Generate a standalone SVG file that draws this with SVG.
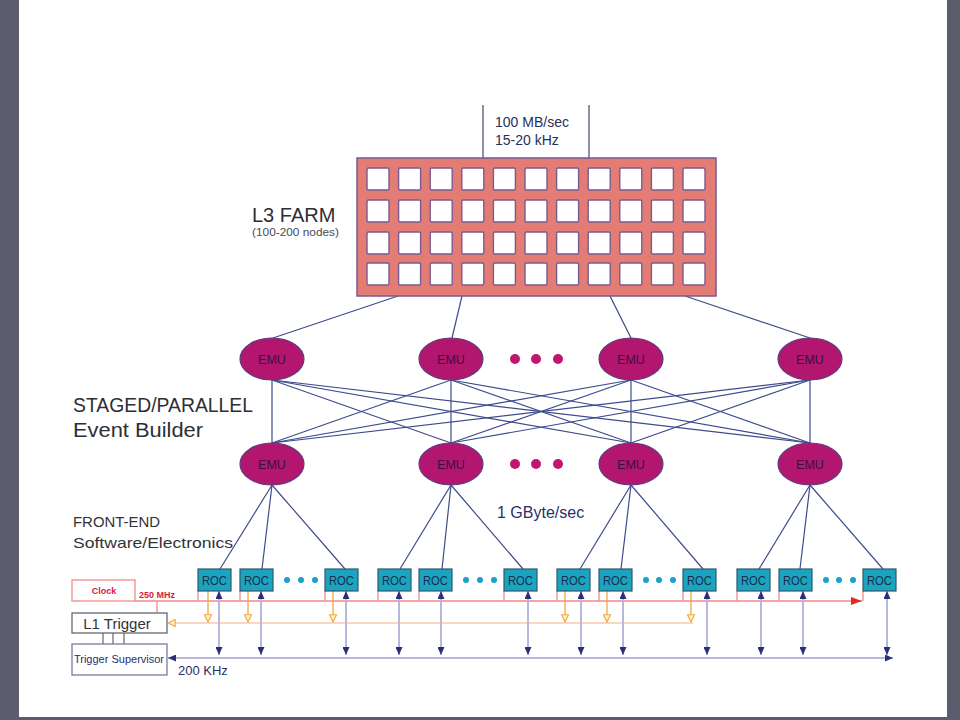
<svg xmlns="http://www.w3.org/2000/svg" width="960" height="720" viewBox="0 0 960 720">
<style>
.lbl{font-family:"Liberation Sans",Arial,sans-serif;}
.emu ellipse{fill:#b3166e;stroke:#5e3c7e;stroke-width:1.2;}
.emu text{font-family:"Liberation Sans",Arial,sans-serif;font-size:12.5px;fill:#3a1040;text-anchor:middle;}
.roc rect{fill:#1ba3c0;stroke:#2d5a6a;stroke-width:1.2;}
.roc text{font-family:"Liberation Sans",Arial,sans-serif;font-size:13px;fill:#16304a;text-anchor:middle;}
.cell{fill:#ffffff;stroke:#7a5a8e;stroke-width:1.4;}
.mesh line{stroke:#3d4b8c;stroke-width:1.2;}
.bus{stroke:#b8b8dc;stroke-width:2;fill:none;}
.red{stroke:#f08a8a;stroke-width:1.3;fill:none;}
.orange{stroke:#f2a844;stroke-width:1.3;fill:none;}
.orangeh{stroke:#f8c8a8;stroke-width:1.3;fill:none;}
.mdot{fill:#c0166f;}
.cdot{fill:#1a9fd0;}
</style>
<defs>
<marker id="nav" viewBox="0 0 8 7" refX="8" refY="3.5" markerWidth="8" markerHeight="7" markerUnits="userSpaceOnUse" orient="auto-start-reverse"><path d="M0,0 L8,3.5 L0,7 z" fill="#2a2f78"/></marker>
<marker id="org" viewBox="0 0 10 10" refX="9" refY="5" markerWidth="9" markerHeight="9" markerUnits="userSpaceOnUse" orient="auto"><path d="M1,1 L9,5 L1,9 z" fill="#fff0c0" stroke="#f2a844" stroke-width="1.2"/></marker>
<marker id="redm" viewBox="0 0 11 8" refX="11" refY="4" markerWidth="11" markerHeight="8" markerUnits="userSpaceOnUse" orient="auto"><path d="M0,0 L11,4 L0,8 z" fill="#e02a2a"/></marker>
</defs>
<rect x="0" y="0" width="960" height="720" fill="#5c5d6c"/>
<rect x="19" y="0" width="928" height="717" fill="#ffffff"/>

<g id="connectors">
<line x1="483" y1="105" x2="483" y2="158" stroke="#6a6a92" stroke-width="1.5"/>
<line x1="589" y1="105" x2="589" y2="158" stroke="#6a6a92" stroke-width="1.5"/>
<g class="mesh">
<line x1="398" y1="296" x2="273" y2="338"/>
<line x1="462" y1="296" x2="452" y2="338"/>
<line x1="610" y1="296" x2="631" y2="338"/>
<line x1="685" y1="296" x2="810" y2="338"/>
<line x1="272" y1="380" x2="272" y2="443"/>
<line x1="272" y1="380" x2="451" y2="443"/>
<line x1="272" y1="380" x2="631" y2="443"/>
<line x1="272" y1="380" x2="810" y2="443"/>
<line x1="451" y1="380" x2="272" y2="443"/>
<line x1="451" y1="380" x2="451" y2="443"/>
<line x1="451" y1="380" x2="631" y2="443"/>
<line x1="451" y1="380" x2="810" y2="443"/>
<line x1="631" y1="380" x2="272" y2="443"/>
<line x1="631" y1="380" x2="451" y2="443"/>
<line x1="631" y1="380" x2="631" y2="443"/>
<line x1="631" y1="380" x2="810" y2="443"/>
<line x1="810" y1="380" x2="272" y2="443"/>
<line x1="810" y1="380" x2="451" y2="443"/>
<line x1="810" y1="380" x2="631" y2="443"/>
<line x1="810" y1="380" x2="810" y2="443"/>
<line x1="272" y1="485" x2="220" y2="569"/>
<line x1="272" y1="485" x2="262" y2="569"/>
<line x1="272" y1="485" x2="345" y2="569"/>
<line x1="451" y1="485" x2="400" y2="569"/>
<line x1="451" y1="485" x2="442" y2="569"/>
<line x1="451" y1="485" x2="523" y2="569"/>
<line x1="631" y1="485" x2="580" y2="569"/>
<line x1="631" y1="485" x2="621" y2="569"/>
<line x1="631" y1="485" x2="703" y2="569"/>
<line x1="810" y1="485" x2="759" y2="569"/>
<line x1="810" y1="485" x2="800" y2="569"/>
<line x1="810" y1="485" x2="883" y2="569"/>
</g>
<!-- clock line -->
<line class="red" x1="135" y1="601" x2="862" y2="601" marker-end="url(#redm)"/>
<path class="red" d="M157,601 V613 M198,591 V601 M240,591 V601 M325,591 V601 M378,591 V601 M419,591 V601 M504,591 V601 M557,591 V601 M599,591 V601 M683,591 V601 M737,591 V601 M779,591 V601 M863,591 V601"/>
<!-- trigger line -->
<line class="orangeh" x1="693" y1="623" x2="168" y2="623" marker-end="url(#org)"/>
<g class="orange">
<line x1="208" y1="591" x2="208" y2="622" marker-end="url(#org)"/>
<line x1="248" y1="591" x2="248" y2="622" marker-end="url(#org)"/>
<line x1="333" y1="591" x2="333" y2="622" marker-end="url(#org)"/>
<line x1="565" y1="591" x2="565" y2="622" marker-end="url(#org)"/>
<line x1="607" y1="591" x2="607" y2="622" marker-end="url(#org)"/>
<line x1="691" y1="591" x2="691" y2="622" marker-end="url(#org)"/>
</g>
<!-- supervisor bus -->
<line class="bus" x1="168" y1="658" x2="893" y2="658" marker-start="url(#nav)" marker-end="url(#nav)"/>
<g class="bus">
<line x1="219" y1="591" x2="219" y2="655" marker-start="url(#nav)" marker-end="url(#nav)"/>
<line x1="261" y1="591" x2="261" y2="655" marker-start="url(#nav)" marker-end="url(#nav)"/>
<line x1="346" y1="591" x2="346" y2="655" marker-start="url(#nav)" marker-end="url(#nav)"/>
<line x1="399" y1="591" x2="399" y2="655" marker-start="url(#nav)" marker-end="url(#nav)"/>
<line x1="441" y1="591" x2="441" y2="655" marker-start="url(#nav)" marker-end="url(#nav)"/>
<line x1="528" y1="591" x2="528" y2="655" marker-start="url(#nav)" marker-end="url(#nav)"/>
<line x1="581" y1="591" x2="581" y2="655" marker-start="url(#nav)" marker-end="url(#nav)"/>
<line x1="623" y1="591" x2="623" y2="655" marker-start="url(#nav)" marker-end="url(#nav)"/>
<line x1="707" y1="591" x2="707" y2="655" marker-start="url(#nav)" marker-end="url(#nav)"/>
<line x1="761" y1="591" x2="761" y2="655" marker-start="url(#nav)" marker-end="url(#nav)"/>
<line x1="803" y1="591" x2="803" y2="655" marker-start="url(#nav)" marker-end="url(#nav)"/>
<line x1="887" y1="591" x2="887" y2="655" marker-start="url(#nav)" marker-end="url(#nav)"/>
</g>
<path d="M103,633 V644 M113,633 V644 M124,633 V644" stroke="#666" stroke-width="1.2" fill="none"/>
</g>

<g id="l3farm">
<rect x="357" y="158" width="359" height="138" fill="#e27c74" stroke="#7a5a8e" stroke-width="1.5"/>
<g id="farmcells">
<rect class="cell" x="367" y="168" width="22" height="22" rx="1.5"/><rect class="cell" x="398.6" y="168" width="22" height="22" rx="1.5"/><rect class="cell" x="430.2" y="168" width="22" height="22" rx="1.5"/><rect class="cell" x="461.8" y="168" width="22" height="22" rx="1.5"/><rect class="cell" x="493.4" y="168" width="22" height="22" rx="1.5"/><rect class="cell" x="525" y="168" width="22" height="22" rx="1.5"/><rect class="cell" x="556.6" y="168" width="22" height="22" rx="1.5"/><rect class="cell" x="588.2" y="168" width="22" height="22" rx="1.5"/><rect class="cell" x="619.8" y="168" width="22" height="22" rx="1.5"/><rect class="cell" x="651.4" y="168" width="22" height="22" rx="1.5"/><rect class="cell" x="683" y="168" width="22" height="22" rx="1.5"/>
<rect class="cell" x="367" y="200" width="22" height="22" rx="1.5"/><rect class="cell" x="398.6" y="200" width="22" height="22" rx="1.5"/><rect class="cell" x="430.2" y="200" width="22" height="22" rx="1.5"/><rect class="cell" x="461.8" y="200" width="22" height="22" rx="1.5"/><rect class="cell" x="493.4" y="200" width="22" height="22" rx="1.5"/><rect class="cell" x="525" y="200" width="22" height="22" rx="1.5"/><rect class="cell" x="556.6" y="200" width="22" height="22" rx="1.5"/><rect class="cell" x="588.2" y="200" width="22" height="22" rx="1.5"/><rect class="cell" x="619.8" y="200" width="22" height="22" rx="1.5"/><rect class="cell" x="651.4" y="200" width="22" height="22" rx="1.5"/><rect class="cell" x="683" y="200" width="22" height="22" rx="1.5"/>
<rect class="cell" x="367" y="232" width="22" height="22" rx="1.5"/><rect class="cell" x="398.6" y="232" width="22" height="22" rx="1.5"/><rect class="cell" x="430.2" y="232" width="22" height="22" rx="1.5"/><rect class="cell" x="461.8" y="232" width="22" height="22" rx="1.5"/><rect class="cell" x="493.4" y="232" width="22" height="22" rx="1.5"/><rect class="cell" x="525" y="232" width="22" height="22" rx="1.5"/><rect class="cell" x="556.6" y="232" width="22" height="22" rx="1.5"/><rect class="cell" x="588.2" y="232" width="22" height="22" rx="1.5"/><rect class="cell" x="619.8" y="232" width="22" height="22" rx="1.5"/><rect class="cell" x="651.4" y="232" width="22" height="22" rx="1.5"/><rect class="cell" x="683" y="232" width="22" height="22" rx="1.5"/>
<rect class="cell" x="367" y="263" width="22" height="22" rx="1.5"/><rect class="cell" x="398.6" y="263" width="22" height="22" rx="1.5"/><rect class="cell" x="430.2" y="263" width="22" height="22" rx="1.5"/><rect class="cell" x="461.8" y="263" width="22" height="22" rx="1.5"/><rect class="cell" x="493.4" y="263" width="22" height="22" rx="1.5"/><rect class="cell" x="525" y="263" width="22" height="22" rx="1.5"/><rect class="cell" x="556.6" y="263" width="22" height="22" rx="1.5"/><rect class="cell" x="588.2" y="263" width="22" height="22" rx="1.5"/><rect class="cell" x="619.8" y="263" width="22" height="22" rx="1.5"/><rect class="cell" x="651.4" y="263" width="22" height="22" rx="1.5"/><rect class="cell" x="683" y="263" width="22" height="22" rx="1.5"/>
</g>
</g>

<g id="labels" class="lbl">
<text x="495" y="127" font-size="14" fill="#2a2f5a">100 MB/sec</text>
<text x="495" y="145" font-size="14" fill="#2a2f5a">15-20 kHz</text>
<text x="252" y="222" font-size="20" fill="#2e2e36">L3 FARM</text>
<text x="252" y="236" font-size="11" fill="#4a4a55" textLength="87" lengthAdjust="spacingAndGlyphs">(100-200 nodes)</text>
<text x="73" y="412" font-size="20" fill="#2e2e36" textLength="180" lengthAdjust="spacingAndGlyphs">STAGED/PARALLEL</text>
<text x="73" y="437" font-size="20" fill="#2e2e36" textLength="130" lengthAdjust="spacingAndGlyphs">Event Builder</text>
<text x="497" y="518" font-size="16" fill="#2a2f6a">1 GByte/sec</text>
<text x="73" y="527" font-size="15" fill="#333338" textLength="87" lengthAdjust="spacingAndGlyphs">FRONT-END</text>
<text x="73" y="548" font-size="15" fill="#333338" textLength="160" lengthAdjust="spacingAndGlyphs">Software/Electronics</text>
<text x="139" y="598" font-size="9" font-weight="bold" fill="#d8203a">250 MHz</text>
<text x="178" y="675" font-size="13" fill="#2a2f6a">200 KHz</text>
</g>

<g id="emu-dots">
<circle class="mdot" cx="515" cy="359" r="5"/><circle class="mdot" cx="536" cy="359" r="5"/><circle class="mdot" cx="558" cy="359" r="5"/>
<circle class="mdot" cx="515" cy="464" r="5"/><circle class="mdot" cx="536" cy="464" r="5"/><circle class="mdot" cx="558" cy="464" r="5"/>
</g>
<g id="emu-t1" class="emu"><ellipse cx="272" cy="359" rx="32" ry="21"/><text x="272" y="364">EMU</text></g>
<g id="emu-t2" class="emu"><ellipse cx="451" cy="359" rx="32" ry="21"/><text x="451" y="364">EMU</text></g>
<g id="emu-t3" class="emu"><ellipse cx="631" cy="359" rx="32" ry="21"/><text x="631" y="364">EMU</text></g>
<g id="emu-t4" class="emu"><ellipse cx="810" cy="359" rx="32" ry="21"/><text x="810" y="364">EMU</text></g>
<g id="emu-b1" class="emu"><ellipse cx="272" cy="464" rx="32" ry="21"/><text x="272" y="469">EMU</text></g>
<g id="emu-b2" class="emu"><ellipse cx="451" cy="464" rx="32" ry="21"/><text x="451" y="469">EMU</text></g>
<g id="emu-b3" class="emu"><ellipse cx="631" cy="464" rx="32" ry="21"/><text x="631" y="469">EMU</text></g>
<g id="emu-b4" class="emu"><ellipse cx="810" cy="464" rx="32" ry="21"/><text x="810" y="469">EMU</text></g>

<g id="roc-dots">
<circle class="cdot" cx="287" cy="580" r="3"/><circle class="cdot" cx="301" cy="580" r="3"/><circle class="cdot" cx="315" cy="580" r="3"/>
<circle class="cdot" cx="466" cy="580" r="3"/><circle class="cdot" cx="480" cy="580" r="3"/><circle class="cdot" cx="494" cy="580" r="3"/>
<circle class="cdot" cx="646" cy="580" r="3"/><circle class="cdot" cx="659" cy="580" r="3"/><circle class="cdot" cx="673" cy="580" r="3"/>
<circle class="cdot" cx="826" cy="580" r="3"/><circle class="cdot" cx="839" cy="580" r="3"/><circle class="cdot" cx="853" cy="580" r="3"/>
</g>
<g id="roc1" class="roc"><rect x="198" y="569" width="33" height="22"/><text x="214.5" y="585" textLength="25" lengthAdjust="spacingAndGlyphs">ROC</text></g>
<g id="roc2" class="roc"><rect x="240" y="569" width="33" height="22"/><text x="256.5" y="585" textLength="25" lengthAdjust="spacingAndGlyphs">ROC</text></g>
<g id="roc3" class="roc"><rect x="325" y="569" width="33" height="22"/><text x="341.5" y="585" textLength="25" lengthAdjust="spacingAndGlyphs">ROC</text></g>
<g id="roc4" class="roc"><rect x="378" y="569" width="33" height="22"/><text x="394.5" y="585" textLength="25" lengthAdjust="spacingAndGlyphs">ROC</text></g>
<g id="roc5" class="roc"><rect x="419" y="569" width="33" height="22"/><text x="435.5" y="585" textLength="25" lengthAdjust="spacingAndGlyphs">ROC</text></g>
<g id="roc6" class="roc"><rect x="504" y="569" width="33" height="22"/><text x="520.5" y="585" textLength="25" lengthAdjust="spacingAndGlyphs">ROC</text></g>
<g id="roc7" class="roc"><rect x="557" y="569" width="33" height="22"/><text x="573.5" y="585" textLength="25" lengthAdjust="spacingAndGlyphs">ROC</text></g>
<g id="roc8" class="roc"><rect x="599" y="569" width="33" height="22"/><text x="615.5" y="585" textLength="25" lengthAdjust="spacingAndGlyphs">ROC</text></g>
<g id="roc9" class="roc"><rect x="683" y="569" width="33" height="22"/><text x="699.5" y="585" textLength="25" lengthAdjust="spacingAndGlyphs">ROC</text></g>
<g id="roc10" class="roc"><rect x="737" y="569" width="33" height="22"/><text x="753.5" y="585" textLength="25" lengthAdjust="spacingAndGlyphs">ROC</text></g>
<g id="roc11" class="roc"><rect x="779" y="569" width="33" height="22"/><text x="795.5" y="585" textLength="25" lengthAdjust="spacingAndGlyphs">ROC</text></g>
<g id="roc12" class="roc"><rect x="863" y="569" width="33" height="22"/><text x="879.5" y="585" textLength="25" lengthAdjust="spacingAndGlyphs">ROC</text></g>

<g id="clock"><rect x="72" y="580" width="63" height="21" fill="#ffffff" stroke="#f08a8a" stroke-width="1.3"/><text class="lbl" x="104" y="594" font-size="9" font-weight="bold" fill="#d8203a" text-anchor="middle">Clock</text></g>
<g id="l1trigger"><rect x="72" y="613" width="95" height="20" fill="#ffffff" stroke="#666670" stroke-width="1.3"/><text class="lbl" x="117" y="629" font-size="15" fill="#333338" text-anchor="middle">L1 Trigger</text></g>
<g id="triggersupervisor"><rect x="72" y="644" width="95" height="31" fill="#ffffff" stroke="#7a7aa4" stroke-width="1.3"/><text class="lbl" x="119" y="663" font-size="11" fill="#2a2f6a" text-anchor="middle">Trigger Supervisor</text></g>
</svg>
